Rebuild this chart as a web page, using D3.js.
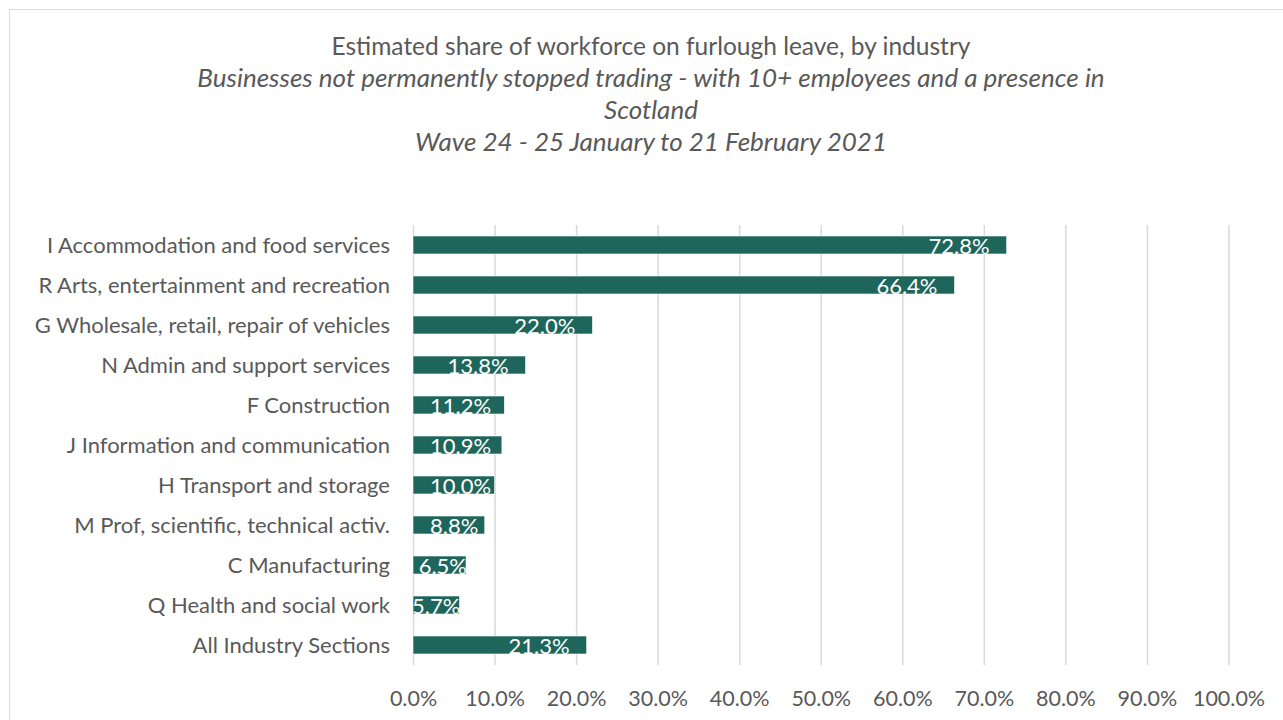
<!DOCTYPE html>
<html>
<head>
<meta charset="utf-8">
<script src="https://cdn.jsdelivr.net/npm/d3@7/dist/d3.min.js"></script>
<style>
  body { margin: 0; background: #fff; }
  text { font-family: Lato, "Open Sans", sans-serif; }
</style>
</head>
<body>
<svg id="chart" width="1283" height="720"></svg>
<script>
'use strict';
//data
var INDUSTRIES = [
  'I Accommodation and food services',
  'R Arts, entertainment and recreation',
  'G Wholesale, retail, repair of vehicles',
  'N Admin and support services',
  'F Construction',
  'J Information and communication',
  'H Transport and storage',
  'M Prof, scientific, technical activ.',
  'C Manufacturing',
  'Q Health and social work',
  'All Industry Sections'
];
var SHARES = [72.8, 66.4, 22.0, 13.8, 11.2, 10.9, 10.0, 8.8, 6.5, 5.7, 21.3];
var TICKS = [0, 10, 20, 30, 40, 50, 60, 70, 80, 90, 100];
var TITLE = 'Estimated share of workforce on furlough leave, by industry';
var SUBTITLE = [
  'Businesses not permanently stopped trading -  with 10+ employees and a presence in',
  'Scotland',
  'Wave 24 - 25 January to 21 February 2021'
];

//constants
var WIDTH = 1283;
var HEIGHT = 720;
var MARGINS = { top: 225, right: 54.5, bottom: 55, left: 413 };
var BAR_COLOR = '#1e665b';
var GRID_COLOR = '#d9d9d9';
var TEXT_COLOR = '#595959';
var FONT_SIZE = 22;

var svg = d3.select('#chart');

var x = d3.scaleLinear()
  .domain([0, 100])
  .range([MARGINS.left, WIDTH - MARGINS.right]);

var y = d3.scaleBand()
  .domain(INDUSTRIES)
  .range([MARGINS.top, HEIGHT - MARGINS.bottom])
  .paddingInner(0.55)
  .paddingOuter(0.275);

drawFrame();
drawTitle();
drawGrid();
drawBars();
drawLabels();

//helpers
function drawFrame() {
  svg.append('rect')
    .attr('x', 9.5)
    .attr('y', 9.5)
    .attr('width', WIDTH + 20)
    .attr('height', HEIGHT + 20)
    .attr('fill', 'none')
    .attr('stroke', GRID_COLOR)
    .attr('stroke-width', 1);
}

function drawTitle() {
  var cx = 651;
  svg.append('text')
    .attr('x', cx)
    .attr('y', 55)
    .attr('text-anchor', 'middle')
    .attr('font-size', 24.5)
    .attr('fill', TEXT_COLOR)
    .text(TITLE);

  svg.selectAll('.subtitle')
    .data(SUBTITLE)
    .enter()
    .append('text')
    .attr('class', 'subtitle')
    .attr('x', cx)
    .attr('y', function(d, i) { return 86.5 + i * 32; })
    .attr('text-anchor', 'middle')
    .attr('font-size', 26)
    .attr('font-style', 'italic')
    .attr('fill', TEXT_COLOR)
    .text(function(d) { return d; });
}

function drawGrid() {
  var axis = d3.axisBottom(x)
    .tickValues(TICKS)
    .tickSize(-(y.range()[1] - y.range()[0]))
    .tickPadding(26)
    .tickFormat(function(d) { return d.toFixed(1) + '%'; });

  var g = svg.append('g')
    .attr('transform', 'translate(0,' + y.range()[1] + ')')
    .call(axis);

  g.select('.domain').remove();
  g.selectAll('.tick line')
    .attr('stroke', GRID_COLOR)
    .attr('stroke-width', 1.5);
  g.selectAll('.tick text')
    .attr('fill', TEXT_COLOR)
    .attr('font-size', 21.5)
    .attr('font-family', 'Lato, "Open Sans", sans-serif');
}

function drawBars() {
  svg.selectAll('.bar')
    .data(SHARES)
    .enter()
    .append('rect')
    .attr('class', 'bar')
    .attr('x', x(0))
    .attr('y', function(d, i) { return y(INDUSTRIES[i]); })
    .attr('width', function(d) { return x(d) - x(0); })
    .attr('height', y.bandwidth())
    .attr('fill', BAR_COLOR)
    .attr('stroke', '#ffffff')
    .attr('stroke-width', 0.6);
}

function drawLabels() {
  var mid = y.bandwidth() / 2;

  svg.selectAll('.cat')
    .data(INDUSTRIES)
    .enter()
    .append('text')
    .attr('class', 'cat')
    .attr('x', 390)
    .attr('y', function(d) { return y(d) + mid + 7.5; })
    .attr('text-anchor', 'end')
    .attr('font-size', FONT_SIZE)
    .attr('fill', TEXT_COLOR)
    .text(function(d) { return d; });

  //value labels sit inside the bar end, pushed right when the bar is short
  svg.selectAll('.val')
    .data(SHARES)
    .enter()
    .append('text')
    .attr('class', 'val')
    .attr('y', function(d, i) { return y(INDUSTRIES[i]) + mid + 8.5; })
    .attr('font-size', FONT_SIZE)
    .attr('fill', '#ffffff')
    .text(function(d) { return d.toFixed(1) + '%'; })
    .attr('x', function(d) {
      var w = this.getComputedTextLength();
      var slack = x(d) - x(0) - w;
      var inset = Math.min(17, Math.max(-1, slack - 17));
      return x(d) - inset - w;
    });
}
</script>
</body>
</html>
